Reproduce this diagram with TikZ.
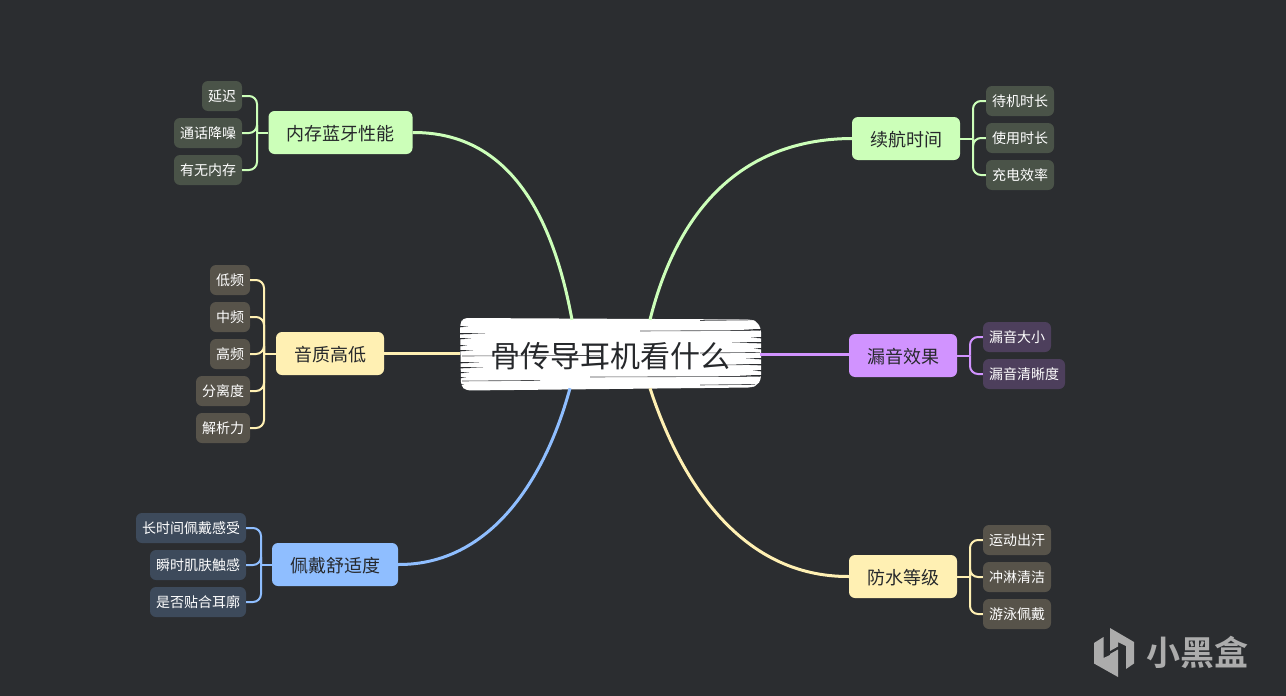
\documentclass[tikz,border=0pt]{standalone}
\usepackage{fontspec}
\setmainfont{Noto Sans CJK SC}
\newfontfamily\logofont{Noto Sans CJK SC Bold}
\definecolor{canvas}{HTML}{2B2D30}
\definecolor{inkdark}{HTML}{26282B}
\definecolor{mintc}{HTML}{CCFFB9}
\definecolor{sandc}{HTML}{FFF0B3}
\definecolor{skyc}{HTML}{8FBEFF}
\definecolor{lilacc}{HTML}{D193FF}
\definecolor{mintleaf}{HTML}{4A5348}
\definecolor{sandleaf}{HTML}{57534A}
\definecolor{skyleaf}{HTML}{3D4A5B}
\definecolor{lilacleaf}{HTML}{4D3F5C}
\definecolor{logoc}{HTML}{ACACAC}

\begin{document}
\begin{tikzpicture}[
	% pixel grid, y→S
	x=1pt,
	y=-1pt,
	topic/.style={rounded corners=6pt,minimum height=43pt,inner xsep=18pt,inner ysep=0pt,text=inkdark,text height=16pt,text depth=.3pt,font=\fontsize{18}{18}\selectfont},
	leaf/.style={rounded corners=6pt,minimum height=30pt,inner xsep=6pt,inner ysep=0pt,text=white,text height=12.2pt,text depth=.6pt,font=\fontsize{14}{14}\selectfont},
	limb/.style={line width=3pt},
	twig/.style={line width=2pt,rounded corners=8pt},
	streak/.style={canvas!85!white,line width=.6pt},
	]
	\useasboundingbox (0,0) rectangle (1286,696);
	\fill[canvas] (0,0) rectangle (1286,696);

	%
	% Central brush box
	%
	\node[minimum width=300pt,minimum height=68pt,inner sep=0pt] (hub) at (610,354) {};
	\fill[white,rounded corners=4pt] (463,318) -- (752,319.5) -- (757,322) -- (761,328) -- (761,380) -- (757,385) -- (752,387.5) -- (466,390.5) -- (461,386) -- (460,324) -- cycle;
	% long dry strokes
	\foreach \xa/\xb/\yy in {700/752/320.5,640/760/331,462/600/356,700/760/353,725/760/365,590/760/377,462/540/381,700/755/385}{
		\draw[streak] (\xa,\yy) -- (\xb,\yy-.6);
	}
	% frayed ends on both sides
	\foreach \yy/\len in {326/9,333/26,338/12,345/8,350/14,362/20,367/24,372/10,377/7,384/5}{
		\fill[canvas] (459,\yy) -- (459+\len,\yy+.5) -- (459,\yy+1.4) -- cycle;
	}
	\foreach \yy/\len in {329/18,337/11,342/30,348/8,358/16,364/26,370/9,375/22}{
		\fill[canvas] (762,\yy) -- (762-\len,\yy+.5) -- (762,\yy+1.4) -- cycle;
	}
	\node[text=inkdark,font=\fontsize{30}{30}\selectfont] (title) at (610,356) {骨传导耳机看什么};

	%
	% Topics, left and right
	%
	\node[topic,fill=mintc] (perf) at (340.5,132.5) {内存蓝牙性能};
	\node[topic,fill=sandc] (sound) at (330,353.5) {音质高低};
	\node[topic,fill=skyc] (comfort) at (335,564.5) {佩戴舒适度};
	\node[topic,fill=mintc] (battery) at (906,138.5) {续航时间};
	\node[topic,fill=lilacc] (leak) at (903,355.5) {漏音效果};
	\node[topic,fill=sandc] (water) at (903,576.5) {防水等级};

	% main limbs
	\draw[limb,mintc] (perf.east) .. controls (500,132) and (550,200) .. ([xshift=-38pt]hub.north);
	\draw[limb,mintc] (battery.west) .. controls (750,139) and (680,200) .. ([xshift=40pt]hub.north);
	\draw[limb,skyc] (comfort.east) .. controls (490,565) and (545,480) .. ([xshift=-40pt]hub.south);
	\draw[limb,sandc] (water.west) .. controls (740,577) and (680,480) .. ([xshift=40pt]hub.south);
	\draw[limb,sandc] (sound.east) -- (sound.east -| hub.west);
	\draw[limb,lilacc] (hub.east) -- (hub.east -| leak.west);

	%
	% Leaves, each group hangs on a bus
	%
	\coordinate (busperf) at (257,132.5);
	\coordinate (bussound) at (264,353.5);
	\coordinate (buscomfort) at (261,564.5);
	\coordinate (busbattery) at (973,138.5);
	\coordinate (busleak) at (970,355.5);
	\coordinate (buswater) at (970,576.5);

	\foreach \nm/\cx/\cy/\txt in {a/222/96/延迟,b/208/133/通话降噪,c/208/170/有无内存}{
		\node[leaf,fill=mintleaf] (perf\nm) at (\cx,\cy) {\txt};
		\draw[twig,mintc] (perf\nm.east) -| (busperf);
	}
	\draw[twig,mintc] (busperf) -- (perf.west);

	\foreach \nm/\cx/\cy/\txt in {a/230/280/低频,b/230/317/中频,c/230/354/高频,d/223/391/分离度,e/223/428/解析力}{
		\node[leaf,fill=sandleaf] (sound\nm) at (\cx,\cy) {\txt};
		\draw[twig,sandc] (sound\nm.east) -| (bussound);
	}
	\draw[twig,sandc] (bussound) -- (sound.west);

	\foreach \nm/\cx/\cy/\txt in {a/191/528/长时间佩戴感受,b/198/565/瞬时肌肤触感,c/198/602/是否贴合耳廓}{
		\node[leaf,fill=skyleaf] (comfort\nm) at (\cx,\cy) {\txt};
		\draw[twig,skyc] (comfort\nm.east) -| (buscomfort);
	}
	\draw[twig,skyc] (buscomfort) -- (comfort.west);

	\foreach \nm/\cx/\cy/\txt in {a/1020/101/待机时长,b/1020/138/使用时长,c/1020/175/充电效率}{
		\node[leaf,fill=mintleaf] (battery\nm) at (\cx,\cy) {\txt};
		\draw[twig,mintc] (battery\nm.west) -| (busbattery);
	}
	\draw[twig,mintc] (busbattery) -- (battery.east);

	\foreach \nm/\cx/\cy/\txt in {a/1017/337/漏音大小,b/1024/374/漏音清晰度}{
		\node[leaf,fill=lilacleaf] (leak\nm) at (\cx,\cy) {\txt};
		\draw[twig,lilacc] (leak\nm.west) -| (busleak);
	}
	\draw[twig,lilacc] (busleak) -- (leak.east);

	\foreach \nm/\cx/\cy/\txt in {a/1017/540/运动出汗,b/1017/577/冲淋清洁,c/1017/614/游泳佩戴}{
		\node[leaf,fill=sandleaf] (water\nm) at (\cx,\cy) {\txt};
		\draw[twig,sandc] (water\nm.west) -| (buswater);
	}
	\draw[twig,sandc] (buswater) -- (water.east);

	%
	% Corner mark
	%
	\fill[logoc] (1094,643) -- (1103.5,637) -- (1103.5,658) -- (1110,655) -- (1110,654) -- (1118,649.5) -- (1118,677) -- (1094,663.5) -- cycle;
	\fill[logoc] (1110,628) -- (1134,642) -- (1134,663.5) -- (1126,669) -- (1126,646) -- (1118,642) -- (1118,646.5) -- (1110,651) -- cycle;
	\node[text=logoc,font=\logofont\fontsize{34}{34}\selectfont,inner sep=0pt] (brand) at (1197,652) {小黑盒};
\end{tikzpicture}
\end{document}
